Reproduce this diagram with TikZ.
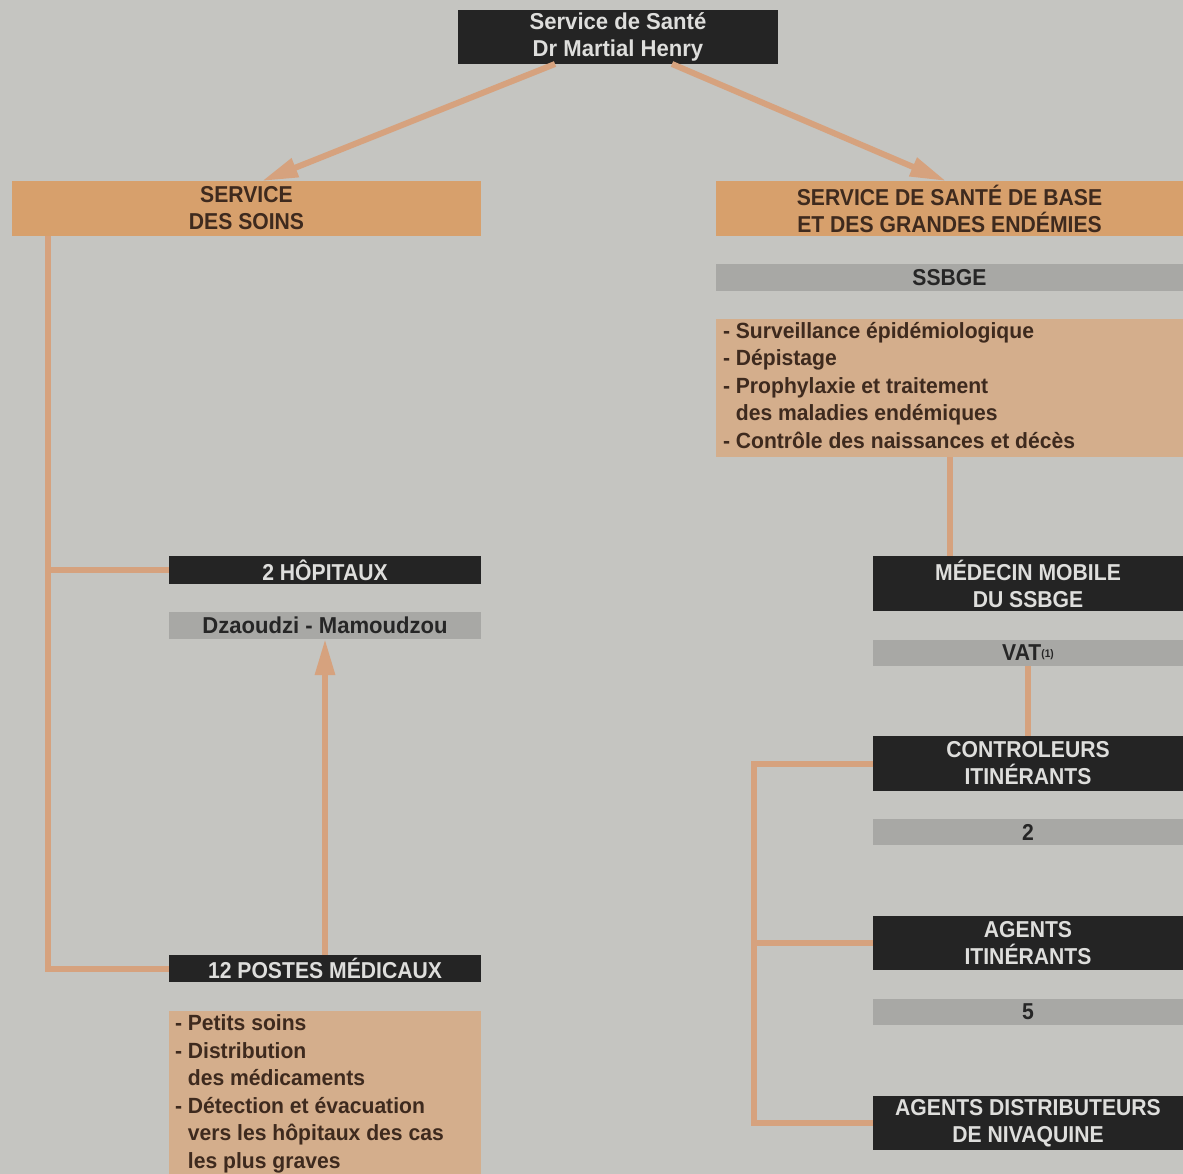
\documentclass[tikz,border=0pt]{standalone}
\usepackage{fontspec}
\setmainfont[FakeStretch=0.92]{Liberation Sans}
\newfontfamily\listfont[FakeStretch=0.96]{Liberation Sans}
\usetikzlibrary{arrows.meta}
\definecolor{bg}{RGB}{197,197,193}
\definecolor{orangebox}{RGB}{215,160,108}
\definecolor{lightorange}{RGB}{212,174,140}
\definecolor{conn}{RGB}{214,162,126}
\definecolor{darkbox}{RGB}{36,36,36}
\definecolor{greybar}{RGB}{168,168,165}
\definecolor{lighttext}{RGB}{222,222,220}
\definecolor{browntext}{RGB}{62,42,30}
\definecolor{greytext}{RGB}{38,38,38}
\tikzset{
  box/.style={inner sep=0pt, outer sep=0pt, align=center, font=\fontsize{23}{27}\selectfont\bfseries},
  darknode/.style={box, fill=darkbox, text=lighttext},
  orangenode/.style={box, fill=orangebox, text=browntext},
  greynode/.style={box, fill=greybar, text=greytext},
  mixednode/.style={box, font=\fontsize{23}{27}\selectfont\listfont\bfseries},
  listnode/.style={inner sep=0pt, outer sep=0pt, text=browntext, align=left, font=\fontsize{22}{27.5}\selectfont\listfont\bfseries, text depth=0pt},
  link/.style={draw=conn, line width=6pt},
  arrowlink/.style={link, -{Triangle[length=36pt,width=19pt]}},
}
\begin{document}
\begin{tikzpicture}[x=1pt,y=-1pt]
\fill[bg] (0,0) rectangle (1183,1174);
\useasboundingbox (0,0) rectangle (1183,1174);

% top
\node[darknode, mixednode, minimum width=320pt, minimum height=54pt] (top) at (618,37) {Service de Santé\\Dr Martial Henry};

% left column
\node[orangenode, minimum width=469pt, minimum height=55pt] (soins) at (246.5,208.5) {SERVICE\\DES SOINS};
\node[darknode, minimum width=312pt, minimum height=28pt] (hop) at (325,570) {2 HÔPITAUX};
\node[greynode, mixednode, minimum width=312pt, minimum height=27pt] (dzm) at (325,625.5) {Dzaoudzi - Mamoudzou};
\node[darknode, minimum width=312pt, minimum height=27pt] (postes) at (325,968.5) {12 POSTES MÉDICAUX};
\fill[lightorange] (169,1011) rectangle (481,1174);
\node[listnode, anchor=north west] (postlist) at (175,1015) {- Petits soins\\- Distribution\\\phantom{- }des médicaments\\- Détection et évacuation\\\phantom{- }vers les hôpitaux des cas\\\phantom{- }les plus graves};

% right column
\node[orangenode, minimum width=467pt, minimum height=55pt] (base) at (949.5,208.5) {SERVICE DE SANTÉ DE BASE\\ET DES GRANDES ENDÉMIES};
\node[greynode, minimum width=467pt, minimum height=27pt] (ssbge) at (949.5,277.5) {SSBGE};
\fill[lightorange] (716,319) rectangle (1183,457);
\node[listnode, anchor=north west] (ssbgelist) at (723,322) {- Surveillance épidémiologique\\- Dépistage\\- Prophylaxie et traitement\\\phantom{- }des maladies endémiques\\- Contrôle des naissances et décès};
\coordinate (listbottom) at (950,457);
\node[darknode, minimum width=310pt, minimum height=55pt] (medecin) at (1028,583.5) {MÉDECIN MOBILE\\DU SSBGE};
\node[greynode, minimum width=310pt, minimum height=26pt] (vat) at (1028,653) {VAT{\fontsize{11}{12}\selectfont\raisebox{0.6ex}{(1)}}};
\node[darknode, minimum width=310pt, minimum height=55pt] (ctrl) at (1028,763.5) {CONTROLEURS\\ITINÉRANTS};
\node[greynode, minimum width=310pt, minimum height=26pt] (two) at (1028,832) {2};
\node[darknode, minimum width=310pt, minimum height=54pt] (agents) at (1028,943) {AGENTS\\ITINÉRANTS};
\node[greynode, minimum width=310pt, minimum height=26pt] (five) at (1028,1012) {5};
\node[darknode, minimum width=310pt, minimum height=54pt] (dist) at (1028,1123) {AGENTS DISTRIBUTEURS\\DE NIVAQUINE};

% connectors
\coordinate (tl) at (555,64);
\coordinate (tr) at (672,64);
\draw[arrowlink] (tl) -- (soins.north -| 262,0);
\draw[arrowlink] (tr) -- (base.north -| 946,0);
\coordinate (lspine) at (48,236);
\draw[link] (lspine) |- (hop.west);
\draw[link] (lspine) |- (postes.west);
\draw[arrowlink] (postes.north) -- (dzm.south);
\draw[link] (listbottom) -- (listbottom |- medecin.north);
\draw[link] (vat.south) -- (ctrl.north);
\coordinate (rspine) at (754,763.5);
\draw[link] (ctrl.west) -- (rspine) |- (dist.west);
\draw[link] (agents.west) -- (agents.west -| rspine);
\end{tikzpicture}
\end{document}
